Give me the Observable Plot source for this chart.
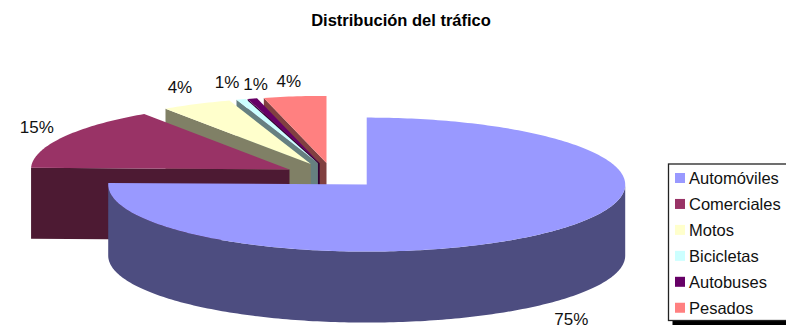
<!DOCTYPE html>
<html>
<head>
<meta charset="utf-8">
<script src="https://cdn.jsdelivr.net/npm/d3@7"></script>
<script src="https://cdn.jsdelivr.net/npm/@observablehq/plot@0.6"></script>
<style>html,body{margin:0;padding:0;background:#fff;overflow:hidden}svg{display:block}</style>
</head>
<body>
<div id="chart"></div>
<script>
const title = "Distribución del tráfico";
const categories = ["Automóviles", "Comerciales", "Motos", "Bicicletas", "Autobuses", "Pesados"];
const values = [75.4, 15.1, 4.4, 0.6, 0.6, 3.9];
const topColors = ["#9999FF", "#993366", "#FFFFCC", "#CCFFFF", "#660066", "#FF8080"];
const sideColors = ["#4D4D80", "#4D1A33", "#808066", "#668080", "#330033", "#804040"];

// pie geometry (pixels of the frame)
const W = 786, H = 329;
const cx = 332, cy = 175, rx = 258.5, ry = 67, depth = 71, explode = 49;
const rad = d => d * Math.PI / 180;
const total = d3.sum(values);

let acc = 0;
const slices = categories.map((name, i) => {
  const a0 = acc / total * 360;
  acc += values[i];
  const a1 = acc / total * 360;
  const mid = (a0 + a1) / 2;
  const ax = cx + explode * Math.sin(rad(mid));
  const ay = cy - explode * Math.cos(rad(mid)) * ry / rx;
  return {name, i, a0, a1, mid, ax, ay, value: values[i], top: topColors[i], side: sideColors[i]};
});
const rim = (s, a, dz = 0) => ({x: s.ax + rx * Math.sin(rad(a)), y: s.ay - ry * Math.cos(rad(a)) + dz});
const arc = (s, a0, a1, dz = 0) => {
  const out = [];
  const n = Math.max(2, Math.ceil(Math.abs(a1 - a0)));
  for (let k = 0; k <= n; ++k) out.push(rim(s, a0 + (a1 - a0) * k / n, dz));
  return out;
};

// painter's order: back slices first, the big front slice last
const polys = [];
const add = (pts, fill) => {
  const id = polys.length ? polys[polys.length - 1].id + 1 : 0;
  pts.forEach(p => polys.push({x: p.x, y: p.y, id, fill}));
};
[...slices].reverse().forEach(s => {
  const apex = {x: s.ax, y: s.ay};
  const apexLow = {x: s.ax, y: s.ay + depth};
  if (s.i > 0) {
    add([apex, rim(s, s.a0), rim(s, s.a0, depth), apexLow], s.side);
  } else {
    add([...arc(s, 90, 270), ...arc(s, 270, 90, depth)], s.side);
  }
  add([apex, ...arc(s, s.a0, s.a1)], s.top);
});

// percentage labels: just outside each slice's rim, with a small hand nudge
const labelNudge = [[6, 11.5], [-3, -7], [-5, -10], [-6.5, -10], [10, -8], [-3, -8]];
const labels = slices.map(s => {
  const p = {x: s.ax + 1.1 * rx * Math.sin(rad(s.mid)), y: s.ay - 1.1 * ry * Math.cos(rad(s.mid))};
  const low = Math.cos(rad(s.mid)) < 0 ? depth : 0;
  return {x: p.x + labelNudge[s.i][0], y: p.y + low + labelNudge[s.i][1], text: Math.round(s.value) + "%"};
});

// legend
const legendX = 668.5, legendTop = 164, legendBottom = 320.5, rowH = 25.95, firstRow = 178;
const rows = slices.map((s, i) => ({
  name: s.name, fill: s.top,
  x1: legendX + 6.5, x2: legendX + 16.5,
  y1: firstRow + i * rowH - 5, y2: firstRow + i * rowH + 5,
  tx: legendX + 20, ty: firstRow + i * rowH
}));

const font = "'Liberation Sans', Arial, sans-serif";
const plot = Plot.plot({
  width: W, height: H,
  margin: 0,
  style: {fontFamily: font, background: "#fff", overflow: "hidden"},
  x: {domain: [0, W], range: [0, W], axis: null},
  y: {domain: [0, H], range: [0, H], axis: null},
  color: {type: "identity"},
  marks: [
    Plot.line(polys, {x: "x", y: "y", z: "id", fill: "fill", stroke: "none", curve: "linear-closed"}),
    Plot.text(labels, {x: "x", y: "y", text: "text", fontSize: 17, fill: "#111", textAnchor: "middle"}),
    Plot.text([title], {x: [400.5], y: [20], text: d => d, fontSize: 16.5, fontWeight: "bold", fill: "#000", textAnchor: "middle"}),
    Plot.rect([0], {x1: [legendX + 4], x2: [W + 10], y1: [legendBottom], y2: [legendBottom + 4.5], fill: "#000"}),
    Plot.rect([0], {x1: [legendX], x2: [W + 10], y1: [legendTop], y2: [legendBottom], fill: "#fff", stroke: "#222", strokeWidth: 1.3}),
    Plot.rect(rows, {x1: "x1", x2: "x2", y1: "y1", y2: "y2", fill: "fill"}),
    Plot.text(rows, {x: "tx", y: "ty", text: "name", fontSize: 16.5, fill: "#111", textAnchor: "start"})
  ]
});
document.getElementById("chart").append(plot);
</script>
</body>
</html>
